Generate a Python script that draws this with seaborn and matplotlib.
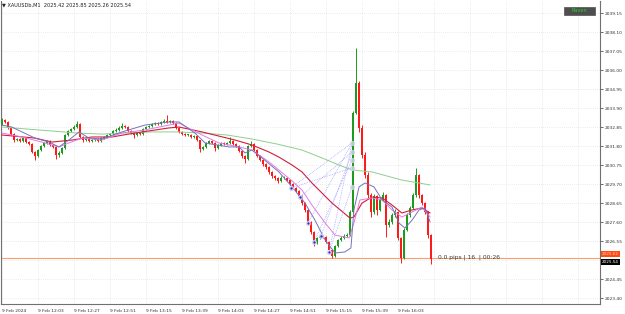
import matplotlib
matplotlib.use("Agg")
import matplotlib.pyplot as plt
import matplotlib.transforms as mtrans
from matplotlib.patches import Rectangle
import seaborn as sns
import numpy as np
import pandas as pd

# ---------------- data ----------------
symbol = "XAUUSDb,M1"
last_ohlc = ["2025.42", "2025.85", "2025.26", "2025.54"]
first_open = 2033.02

closes = [2033.24, 2033.13, 2032.80, 2032.46, 2032.13, 2032.19, 2032.08, 2032.24, 2032.02, 2031.91,
          2031.47, 2031.25, 2031.58, 2031.80, 2031.97, 2032.08, 2031.86, 2031.75, 2031.30, 2031.42,
          2031.69, 2032.41, 2032.63, 2032.74, 2032.85, 2033.02, 2032.30, 2032.13, 2032.19, 2032.08,
          2032.13, 2032.19, 2032.08, 2032.24, 2032.30, 2032.41, 2032.46, 2032.63, 2032.69, 2032.80,
          2032.91, 2032.85, 2032.63, 2032.52, 2032.41, 2032.52, 2032.46, 2032.74, 2032.85, 2032.91,
          2033.02, 2033.07, 2033.02, 2033.13, 2033.18, 2033.13, 2033.18, 2033.07, 2032.80, 2032.58,
          2032.46, 2032.41, 2032.43, 2032.30, 2032.35, 2032.13, 2031.64, 2031.75, 2031.97, 2032.08,
          2031.97, 2031.69, 2031.86, 2031.97, 2031.91, 2031.97, 2032.08, 2031.91, 2031.80, 2031.53,
          2031.25, 2031.08, 2031.80, 2031.91, 2031.58, 2031.25, 2031.03, 2030.81, 2030.64, 2030.37,
          2030.14, 2030.03, 2029.87, 2030.03, 2030.05, 2029.92, 2029.70, 2029.48, 2029.32, 2029.04,
          2028.65, 2028.27, 2027.60, 2027.05, 2026.44, 2026.72, 2026.83, 2026.77, 2026.50, 2026.06,
          2025.72, 2026.28, 2026.61, 2026.72, 2026.83, 2026.88, 2028.16, 2033.63, 2035.28, 2032.80,
          2031.30, 2030.20, 2029.09, 2028.16, 2029.04, 2028.27, 2028.82, 2029.09, 2027.44, 2027.60,
          2027.99, 2028.16, 2026.72, 2025.61, 2027.16, 2027.99, 2028.38, 2029.09, 2030.20, 2029.09,
          2028.65, 2028.16, 2026.88, 2025.54]

highs = [2033.35, 2033.30, 2033.18, 2032.85, 2032.50, 2032.27, 2032.24, 2032.30, 2032.28, 2032.06,
         2031.95, 2031.52, 2031.64, 2031.86, 2032.05, 2032.16, 2032.12, 2031.90, 2031.78, 2031.50,
         2031.75, 2032.46, 2032.70, 2032.82, 2032.95, 2033.20, 2033.08, 2032.36, 2032.26, 2032.24,
         2032.20, 2032.25, 2032.23, 2032.30, 2032.36, 2032.48, 2032.54, 2032.70, 2032.78, 2032.88,
         2033.10, 2032.98, 2032.90, 2032.68, 2032.58, 2032.58, 2032.58, 2032.80, 2032.92, 2032.98,
         2033.10, 2033.15, 2033.12, 2033.20, 2033.30, 2033.51, 2033.26, 2033.22, 2033.12, 2032.86,
         2032.62, 2032.52, 2032.48, 2032.46, 2032.42, 2032.40, 2032.16, 2031.82, 2032.03, 2032.16,
         2032.12, 2032.00, 2031.92, 2032.04, 2032.02, 2032.04, 2032.30, 2032.12, 2031.96, 2031.84,
         2031.58, 2031.30, 2031.86, 2032.08, 2031.96, 2031.62, 2031.30, 2031.08, 2030.86, 2030.68,
         2030.42, 2030.20, 2030.08, 2030.12, 2030.14, 2030.08, 2029.96, 2029.75, 2029.52, 2029.36,
         2029.08, 2028.70, 2028.32, 2027.66, 2027.10, 2026.80, 2026.92, 2026.88, 2026.82, 2026.55,
         2026.10, 2026.34, 2026.68, 2026.82, 2026.94, 2026.98, 2028.25, 2033.75, 2037.22, 2035.40,
         2032.95, 2031.45, 2030.35, 2029.20, 2029.15, 2029.10, 2028.92, 2029.25, 2029.15, 2027.75,
         2028.10, 2028.30, 2028.22, 2026.80, 2027.25, 2028.08, 2028.50, 2029.20, 2030.59, 2030.25,
         2029.15, 2028.72, 2028.20, 2026.95]

lows = [2032.95, 2033.05, 2032.72, 2032.40, 2032.05, 2032.08, 2032.00, 2032.02, 2031.96, 2031.85,
        2031.40, 2031.03, 2031.20, 2031.52, 2031.75, 2031.92, 2031.80, 2031.68, 2031.10, 2031.20,
        2031.36, 2031.64, 2032.35, 2032.58, 2032.68, 2032.80, 2032.22, 2032.05, 2032.08, 2032.02,
        2032.03, 2032.08, 2032.02, 2032.04, 2032.18, 2032.26, 2032.36, 2032.42, 2032.58, 2032.64,
        2032.75, 2032.78, 2032.55, 2032.45, 2032.24, 2032.36, 2032.40, 2032.42, 2032.70, 2032.80,
        2032.86, 2032.98, 2032.96, 2032.98, 2033.08, 2033.06, 2033.08, 2033.00, 2032.74, 2032.50,
        2032.40, 2032.34, 2032.33, 2032.24, 2032.25, 2032.06, 2031.47, 2031.58, 2031.70, 2031.92,
        2031.90, 2031.53, 2031.64, 2031.82, 2031.86, 2031.86, 2031.92, 2031.85, 2031.74, 2031.45,
        2031.15, 2030.86, 2031.02, 2031.74, 2031.50, 2031.18, 2030.95, 2030.72, 2030.55, 2030.28,
        2030.05, 2029.94, 2029.78, 2029.82, 2029.96, 2029.85, 2029.62, 2029.40, 2029.25, 2028.96,
        2028.56, 2028.18, 2027.50, 2026.95, 2026.30, 2026.38, 2026.66, 2026.70, 2026.42, 2025.98,
        2025.62, 2025.68, 2026.22, 2026.55, 2026.66, 2026.78, 2026.82, 2028.10, 2033.55, 2032.60,
        2031.15, 2030.05, 2028.95, 2027.88, 2028.05, 2028.00, 2028.20, 2028.75, 2026.77, 2027.30,
        2027.52, 2027.90, 2026.60, 2025.34, 2025.55, 2027.10, 2027.90, 2028.30, 2029.00, 2028.95,
        2028.55, 2028.05, 2026.70, 2025.26]

time_labels = ["9 Feb 2024", "9 Feb 12:03", "9 Feb 12:27", "9 Feb 12:51", "9 Feb 13:15",
               "9 Feb 13:39", "9 Feb 14:03", "9 Feb 14:27", "9 Feb 14:51", "9 Feb 15:15",
               "9 Feb 15:39", "9 Feb 16:03"]
time_label_bars = [0, 12, 24, 36, 48, 60, 72, 84, 96, 108, 120, 132]

price_ticks = [2039.15, 2038.10, 2037.05, 2036.00, 2034.95, 2033.90, 2032.85, 2031.80,
               2030.75, 2029.70, 2028.65, 2027.60, 2026.55, 2025.50, 2024.45, 2023.40]
hidden_tick = 2025.50   # covered by the price tags in the reference

# moving averages (bar position, price)
ma_green_bar = [0, 8.3, 16.7, 25, 33.3, 41.7, 50, 58.3, 66.7, 75, 83.3, 91.7, 100, 106.7,
                112.3, 116.7, 123.3, 133.3, 142.7]
ma_green = [2032.85, 2032.74, 2032.63, 2032.52, 2032.46, 2032.52, 2032.58, 2032.58, 2032.52,
            2032.41, 2032.19, 2031.91, 2031.58, 2031.14, 2030.75, 2030.48, 2030.37, 2029.92, 2029.65]

ma_red_bar = [0, 11, 16.7, 23.3, 30, 36.7, 44.3, 55.7, 59, 66.7, 77.7, 83.3, 89, 92.3, 96.7,
              100, 103.3, 110, 116, 117.3, 120, 123.3, 126.7, 130, 133.3, 136.7, 140, 142.7]
ma_red = [2032.41, 2032.24, 2032.02, 2032.13, 2032.30, 2032.30, 2032.52, 2032.80, 2032.85, 2032.58,
          2032.13, 2031.86, 2031.47, 2031.19, 2030.75, 2030.37, 2029.76, 2028.65, 2027.82, 2027.88,
          2028.65, 2028.98, 2028.93, 2028.54, 2028.10, 2028.27, 2028.38, 2028.10]

ma_mag_bar = [0, 6.7, 13.3, 19, 22.3, 26.7, 33.3, 40, 47.7, 55.7, 59, 66.7, 72.3, 79, 83.3, 89,
              94.3, 96.7, 100, 103.3, 107.7, 111, 115.7, 117.3, 119.3, 123.3, 126.7, 130, 133.3,
              136.7, 140, 142.7]
ma_mag = [2032.52, 2032.30, 2032.02, 2031.75, 2031.97, 2032.24, 2032.13, 2032.52, 2032.69, 2032.96,
          2033.07, 2032.41, 2031.97, 2031.75, 2031.58, 2030.92, 2030.20, 2029.87, 2029.37, 2028.54,
          2027.55, 2026.88, 2026.72, 2027.55, 2028.82, 2028.93, 2028.82, 2028.27, 2027.88, 2028.16,
          2028.43, 2027.88]

ma_blue_bar = [0, 3.3, 6.7, 11, 15.7, 19, 22.3, 25.7, 29, 33.3, 40, 47.7, 55.7, 59, 64.3, 67.7,
               75.7, 79, 81, 83.3, 86.7, 92.3, 96.7, 101, 104.3, 107.7, 111, 114.3, 116.3, 117.3,
               119, 121, 124, 126.7, 130, 132.3, 134.3, 136.7, 139, 141, 142.7]
ma_blue = [2032.96, 2032.85, 2032.58, 2032.24, 2032.02, 2031.75, 2032.13, 2032.58, 2032.24, 2032.19,
           2032.58, 2032.96, 2033.13, 2033.13, 2032.52, 2031.97, 2031.75, 2031.75, 2031.42, 2031.58,
           2031.14, 2030.37, 2029.54, 2028.65, 2027.71, 2026.61, 2025.89, 2025.95, 2026.17, 2028.27,
           2029.54, 2029.76, 2029.54, 2028.82, 2028.43, 2027.55, 2027.27, 2027.71, 2028.27, 2028.38,
           2027.60]

# fan drawing anchors
fan_left_bar = [96.3, 99.3, 102.0, 104.0, 106.3, 109.0]
fan_left_price = [2029.48, 2028.98, 2027.55, 2026.50, 2026.83, 2025.95]
fan_right_bar = [116.7, 116.7, 116.7, 116.7, 116.7]
fan_right_price = [2031.97, 2031.47, 2031.03, 2030.59, 2029.54]
fan_links = [(0, 0), (0, 3), (1, 1), (2, 0), (3, 2), (4, 1), (5, 0), (5, 4)]

hline_price = 2025.62
current_price = "2025.54"
hline_tag = "2025.62"
info_text = "0.0 pips | 16  | 00:26"
button_text = "Raven"

# ---------------- drawing ----------------
sns.set_style("white")
plt.rcParams['font.family'] = ['DejaVu Sans']

W, H = 625, 314
fig = plt.figure(figsize=(W / 100, H / 100), dpi=100)
fig.patch.set_facecolor("white")
ax = fig.add_axes([1 / W, 10 / H, 599 / W, 303 / H])
ax.set_facecolor("white")
ax.set_xlim(-0.3, 199.3)
ax.set_ylim(2023.073, 2039.813)

grid_kw = dict(color="#d9d9d9", lw=0.5, ls=(0, (1, 2)), zorder=0)
for gx in range(0, 200, 12):
    ax.axvline(gx, **grid_kw)
for gy in price_ticks:
    ax.axhline(gy, **grid_kw)

opens = [first_open] + closes[:-1]
df = pd.DataFrame(dict(bar=np.arange(len(closes)), open=opens, high=highs, low=lows, close=closes))
up = df["close"] >= df["open"]
col = np.where(up, "#1e9a1e", "#ff1a1a")
ax.vlines(df["bar"], df["low"], df["high"], colors=col, lw=0.7, zorder=3)
body = (df["close"] - df["open"]).abs().clip(lower=0.03)
ax.bar(df["bar"], body, bottom=np.minimum(df["open"], df["close"]), width=0.75,
       color=col, linewidth=0, zorder=3)

sns.lineplot(x=ma_green_bar, y=ma_green, ax=ax, color="#8fcf8f", lw=0.7, zorder=4)
sns.lineplot(x=ma_red_bar, y=ma_red, ax=ax, color="#d41c3c", lw=0.8, zorder=5)
sns.lineplot(x=ma_mag_bar, y=ma_mag, ax=ax, color="#e27ae6", lw=0.7, zorder=5)
sns.lineplot(x=ma_blue_bar, y=ma_blue, ax=ax, color="#7474b8", lw=0.7, zorder=6)

for i, j in fan_links:
    ax.plot([fan_left_bar[i], fan_right_bar[j]], [fan_left_price[i], fan_right_price[j]],
            ls=(0, (1, 1.5)), color="#8c8cff", lw=0.5, zorder=6)
ax.scatter(fan_left_bar + fan_right_bar, fan_left_price + fan_right_price, s=14,
           color="#cfd3e6", alpha=0.85, linewidths=0, zorder=7)
ax.scatter(fan_left_bar, fan_left_price, s=2.5, color="#2020ff", linewidths=0, zorder=8)

ax.axhline(hline_price, color="#f5a06e", lw=0.8, zorder=2)
ax.text(145.3, hline_price + 0.05, info_text, fontsize=4.3, color="#3c3c3c",
        va="center", ha="left", zorder=9)

for s in ["left", "right", "bottom"]:
    ax.spines[s].set_color("#707070")
    ax.spines[s].set_linewidth(0.8)
ax.spines["top"].set_visible(False)

ax.yaxis.tick_right()
ax.set_yticks(price_ticks)
ax.set_yticklabels(["" if p == hidden_tick else f"{p:.2f}" for p in price_ticks])
ax.set_xticks(time_label_bars)
ax.set_xticklabels(time_labels)
for lbl in ax.get_xticklabels():
    lbl.set_ha("left")
ax.tick_params(axis="y", length=2, width=0.5, pad=1.5, labelsize=3.2, colors="#303030")
ax.tick_params(axis="x", length=2, width=0.5, pad=1.5, labelsize=3.2, colors="#303030")
ax.set_xlabel("")
ax.set_ylabel("")

trans = mtrans.blended_transform_factory(ax.transAxes, ax.transData)
ax.text(1.003, 2025.82, hline_tag, transform=trans, fontsize=3.0, color="#ffd0c0",
        va="center", ha="left", bbox=dict(boxstyle="square,pad=0.2", fc="#ff4a14", ec="none"),
        zorder=10)
ax.text(1.003, 2025.40, current_price, transform=trans, fontsize=3.0, color="white",
        va="center", ha="left", bbox=dict(boxstyle="square,pad=0.2", fc="black", ec="none"),
        zorder=11)

fig.text(2 / W, 1 - 5 / H, "\u25BC " + symbol + "  " + " ".join(last_ohlc),
         fontsize=3.6, color="#202020", va="center", ha="left")

fig.patches.append(Rectangle((564 / W, 1 - 15 / H), 31 / W, 8 / H, transform=fig.transFigure,
                             fc="#4e4e4e", ec="#3a3a3a", lw=0.4))
fig.text(579.5 / W, 1 - 11 / H, button_text, fontsize=3.6, color="#28d028",
         va="center", ha="center")

fig.savefig("out.png", dpi=100)
